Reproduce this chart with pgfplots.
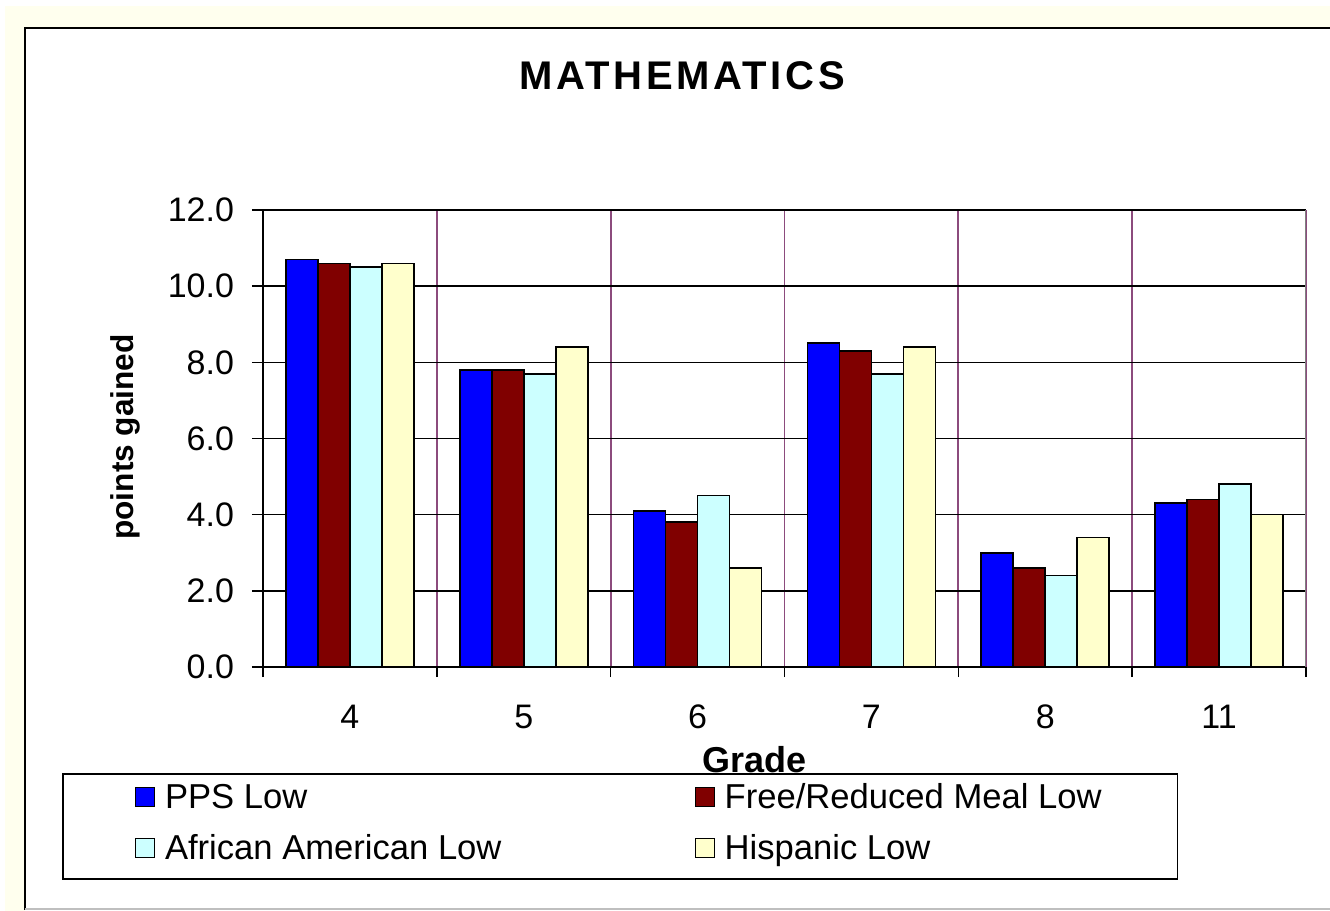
\documentclass[border=0pt]{standalone}
\usepackage{fontspec}
\setmainfont{Liberation Sans}
\newfontfamily\titlefont[LetterSpace=9]{Liberation Sans}
\usepackage{pgfplots}
\pgfplotsset{compat=1.18}

\definecolor{ppsblue}{RGB}{0,0,255}
\definecolor{frmred}{RGB}{128,0,0}
\definecolor{aacyan}{RGB}{204,255,255}
\definecolor{hisyel}{RGB}{255,255,204}
\definecolor{vgrid}{RGB}{140,75,125}
\definecolor{bgyel}{RGB}{255,255,238}

\begin{document}
\begin{tikzpicture}
\useasboundingbox (0,0) rectangle (665pt,455.5pt);
\fill[white] (0,0) rectangle (665pt,455.5pt);
\fill[bgyel] (2.5pt,0) rectangle (665pt,452.5pt);
\fill[white] (12.5pt,0) rectangle (665pt,441.5pt);
\draw[line width=1pt] (12.5pt,0.5pt) -- (12.5pt,441.5pt) -- (665pt,441.5pt);
\draw[black!25, line width=0.8pt] (12.5pt,1pt) -- (665pt,1pt);

\begin{axis}[
  at={(131.5pt,122pt)}, anchor=south west,
  scale only axis, width=521.5pt, height=228.5pt,
  ybar=0pt, bar width=0.184,
  xmin=-0.5, xmax=5.5, ymin=0, ymax=12,
  axis lines*=left,
  axis line style={line width=0.8pt},
  xtick={0,...,5}, xticklabels={4,5,6,7,8,11},
  minor xtick={-0.5,0.5,...,5.5},
  ytick={0,2,...,12},
  tick align=outside,
  major tick length=5.5pt, minor tick length=5pt,
  tick style={black, line width=0.8pt},
  major x tick style={draw=none},
  ymajorgrids=true, xminorgrids=true,
  major grid style={black, line width=0.8pt},
  minor grid style={vgrid, line width=0.9pt},
  ticklabel style={font=\fontsize{17}{20}\selectfont},
  yticklabel style={/pgf/number format/fixed, /pgf/number format/fixed zerofill,
    /pgf/number format/precision=1, /pgf/number format/assume math mode=true, xshift=-5.5pt},
  xticklabel style={yshift=-10pt},
  title={\titlefont\bfseries MATHEMATICS},
  title style={at={(axis description cs:0.4017,1.267)}, anchor=center, font=\fontsize{20}{23}\selectfont},
  xlabel={Grade},
  xlabel style={at={(axis description cs:0.4717,-0.2035)}, anchor=center, font=\fontsize{18}{21}\selectfont\bfseries},
  ylabel={points gained},
  ylabel style={at={(axis description cs:-0.1323,0.5033)}, anchor=center, font=\fontsize{15.8}{19}\selectfont\bfseries},
  legend columns=2,
  legend cell align=left,
  legend style={at={(axis description cs:-0.1927,-0.2319)}, anchor=north west,
    draw=black, line width=0.8pt, inner xsep=36pt, inner ysep=3.5pt,
    font=\fontsize{17.3}{20}\selectfont,
    nodes={inner sep=2pt, text height=12pt, text depth=4pt},
    row sep=5.5pt,
    /tikz/column 1/.style={column sep=3pt},
    /tikz/column 2/.style={column sep=94.5pt},
    /tikz/column 3/.style={column sep=3pt}},
  legend image code/.code={\draw[#1, line width=0.6pt] (0pt,-3pt) rectangle (9.5pt,6.5pt);},
]
\addplot[fill=ppsblue, draw=black, line width=0.8pt] coordinates {(0,10.7) (1,7.8) (2,4.1) (3,8.5) (4,3.0) (5,4.3)};
\addlegendentry{PPS Low}
\addplot[fill=frmred, draw=black, line width=0.8pt] coordinates {(0,10.6) (1,7.8) (2,3.8) (3,8.3) (4,2.6) (5,4.4)};
\addlegendentry{Free/Reduced Meal Low}
\addplot[fill=aacyan, draw=black, line width=0.8pt] coordinates {(0,10.5) (1,7.7) (2,4.5) (3,7.7) (4,2.4) (5,4.8)};
\addlegendentry{African American Low}
\addplot[fill=hisyel, draw=black, line width=0.8pt] coordinates {(0,10.6) (1,8.4) (2,2.6) (3,8.4) (4,3.4) (5,4.0)};
\addlegendentry{Hispanic Low}
\draw[gray, line width=0.8pt] (rel axis cs:1,0) -- (rel axis cs:1,1);
\end{axis}
\end{tikzpicture}
\end{document}
